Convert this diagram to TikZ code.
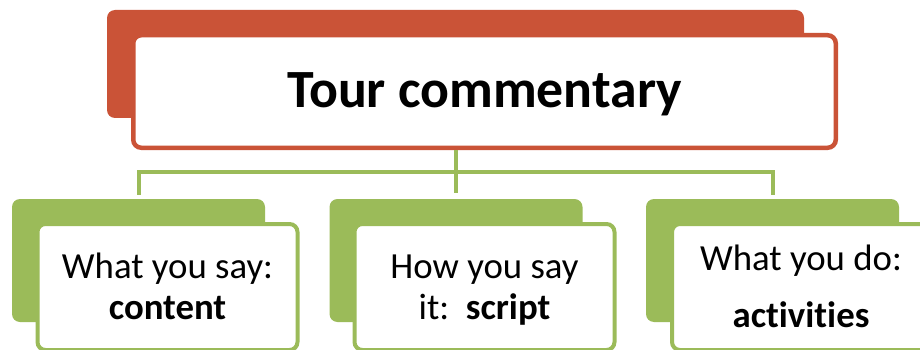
\documentclass[tikz,border=0pt]{standalone}
\usepackage{fontspec}
\setmainfont{Carlito}[Ligatures={NoCommon}]
\definecolor{orangeR}{RGB}{202,83,55}
\definecolor{greenG}{RGB}{155,187,89}
\begin{document}
\begin{tikzpicture}[x=1pt,y=-1pt,
  topback/.style={rectangle, rounded corners=8pt, fill=orangeR, draw=none, inner sep=0pt},
  topfront/.style={rectangle, rounded corners=8pt, fill=white, draw=orangeR, line width=4.5pt, inner sep=0pt},
  subback/.style={rectangle, rounded corners=8pt, fill=greenG, draw=none, inner sep=0pt, minimum width=253pt, minimum height=123pt},
  subfront/.style={rectangle, rounded corners=8pt, fill=white, draw=greenG, line width=4pt, inner sep=0pt, minimum width=260pt, minimum height=126pt},
  conn/.style={draw=greenG, line width=4pt},
  lbl/.style={font=\fontsize{36.8}{44}\selectfont, align=center, inner sep=0pt},
]
\useasboundingbox (0,0) rectangle (920,350);
\begin{scope}
\clip (0,0) rectangle (920,350);
% top
\node[topback, minimum width=697pt, minimum height=108pt] (tback) at (455.5,64) {};
\node[topfront, minimum width=702.5pt, minimum height=112.5pt] (tfront) at (484.5,91.5) {};
\node[font=\fontsize{53.8}{60}\selectfont\bfseries, inner sep=0pt, anchor=base] (title) at (484.5,107) {Tour commentary};
% sub boxes back
\node[subback] (b1) at (138.5,260.5) {};
\node[subback] (b2) at (456,260.5) {};
\node[subback] (b3) at (772.5,260.5) {};
% connectors
\coordinate (hub) at (b2.north |- 0,172);
\coordinate (c1) at (b1.north |- 0,193);
\coordinate (c2) at (b2.north |- 0,193);
\coordinate (c3) at (b3.north |- 0,193);
\draw[conn] (hub |- tfront.south) -- (hub);
\draw[conn, line cap=rect] (c1) -- (c1 |- hub) -- (c3 |- hub) -- (c3);
\draw[conn] (hub) -- (c2);
% sub boxes front
\node[subfront] (f1) at (167.5,287) {};
\node[subfront] (f2) at (484.5,287) {};
\node[subfront] (f3) at (802,287) {};
\node[lbl, anchor=base] (t1a) at (167.5,278) {What you say:};
\node[lbl, anchor=base] (t1b) at (167.5,319) {\bfseries content};
\node[lbl, anchor=base] (t2a) at (484.5,278) {How you say};
\node[lbl, anchor=base] (t2b) at (484.5,319) {it:\ \ \textbf{script}};
\node[lbl, anchor=base] (t3a) at (801,270) {What you do:};
\node[lbl, anchor=base] (t3b) at (801,327) {\bfseries activities};
\end{scope}
\end{tikzpicture}
\end{document}
